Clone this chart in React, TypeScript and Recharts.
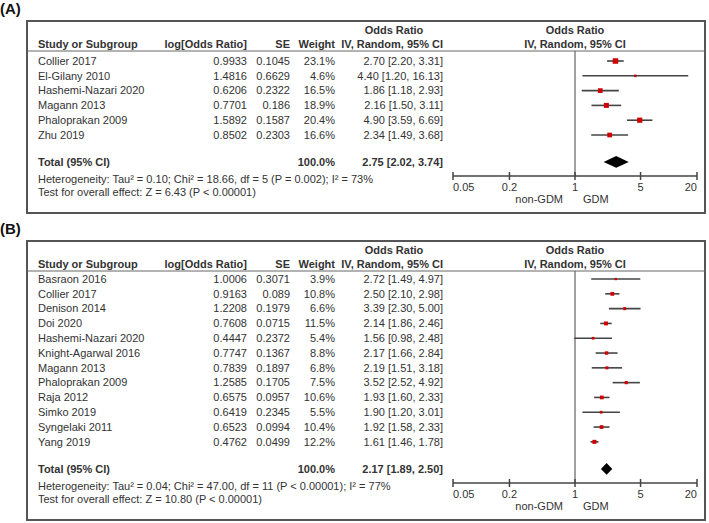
import React from 'react';
import { ComposedChart, Scatter, XAxis, YAxis, ReferenceLine, ReferenceArea, ErrorBar } from 'recharts';

// ---------- Panel A data ----------
const studiesA = ['Collier 2017', 'El-Gilany 2010', 'Hashemi-Nazari 2020', 'Magann 2013', 'Phaloprakan 2009', 'Zhu 2019'];
const logOrA = ['0.9933', '1.4816', '0.6206', '0.7701', '1.5892', '0.8502'];
const seA = ['0.1045', '0.6629', '0.2322', '0.186', '0.1587', '0.2303'];
const weightA = [23.1, 4.6, 16.5, 18.9, 20.4, 16.6];
const orA = [2.7, 4.4, 1.86, 2.16, 4.9, 2.34];
const loA = [2.2, 1.2, 1.18, 1.5, 3.59, 1.49];
const hiA = [3.31, 16.13, 2.93, 3.11, 6.69, 3.68];
const totalA = [2.75, 2.02, 3.74];
const hetA = ['0.10', '18.66', '5', 'P = 0.002', '73%'];
const effectA = ['6.43', 'P < 0.00001'];

// ---------- Panel B data ----------
const studiesB = ['Basraon 2016', 'Collier 2017', 'Denison 2014', 'Doi 2020', 'Hashemi-Nazari 2020', 'Knight-Agarwal 2016', 'Magann 2013', 'Phaloprakan 2009', 'Raja 2012', 'Simko 2019', 'Syngelaki 2011', 'Yang 2019'];
const logOrB = ['1.0006', '0.9163', '1.2208', '0.7608', '0.4447', '0.7747', '0.7839', '1.2585', '0.6575', '0.6419', '0.6523', '0.4762'];
const seB = ['0.3071', '0.089', '0.1979', '0.0715', '0.2372', '0.1367', '0.1897', '0.1705', '0.0957', '0.2345', '0.0994', '0.0499'];
const weightB = [3.9, 10.8, 6.6, 11.5, 5.4, 8.8, 6.8, 7.5, 10.6, 5.5, 10.4, 12.2];
const orB = [2.72, 2.5, 3.39, 2.14, 1.56, 2.17, 2.19, 3.52, 1.93, 1.9, 1.92, 1.61];
const loB = [1.49, 2.1, 2.3, 1.86, 0.98, 1.66, 1.51, 2.52, 1.6, 1.2, 1.58, 1.46];
const hiB = [4.97, 2.98, 5.0, 2.46, 2.48, 2.84, 3.18, 4.92, 2.33, 3.01, 2.33, 1.78];
const totalB = [2.17, 1.89, 2.5];
const hetB = ['0.04', '47.00', '11', 'P < 0.00001', '77%'];
const effectB = ['10.80', 'P < 0.00001'];

// ---------- Axis ----------
const axisTicks = [0.05, 0.2, 1, 5, 20];
const axisLabels = ['0.05', '0.2', '1', '5', '20'];

const FONT = '"Liberation Sans", Arial, sans-serif';
const TXT = '#333';
const W = 709;

const fmt = (v: number) => v.toFixed(2);
const ciText = (o: number, l: number, h: number) => `${fmt(o)} [${fmt(l)}, ${fmt(h)}]`;

const Square = (props: any) => {
  const { cx, cy, payload } = props;
  const s = 1.15 * Math.sqrt(payload.w);
  return <rect x={cx - s / 2} y={cy - s / 2} width={s} height={s} fill="#d00000" />;
};

const Diamond = (props: any) => {
  const { x, y, width, height } = props;
  const cx = x + width / 2;
  const cy = y + height / 2;
  return <polygon points={`${x},${cy} ${cx},${y} ${x + width},${cy} ${cx},${y + height}`} fill="#000" />;
};

const AxisTick = (props: any) => {
  const { x, y, payload, index } = props;
  const anchor = index === 0 ? 'start' : index === axisTicks.length - 1 ? 'end' : 'middle';
  const lbl = axisLabels[axisTicks.indexOf(payload.value)];
  return (
    <g>
      <line x1={x} x2={x} y1={y - 4} y2={y + 4} stroke="#444" strokeWidth={1.5} />
      <text x={x} y={y + 11} dy="0.35em" textAnchor={anchor} fontFamily={FONT} fontSize={11} fill={TXT}>{lbl}</text>
    </g>
  );
};

type PanelProps = {
  names: string[]; logOr: string[]; se: string[]; weight: number[]; or: number[]; lo: number[]; hi: number[];
  total: number[]; top: number; height: number; marginTop: number; marginBottom: number;
  yDomain: [number, number]; totalPos: number;
};

function Panel(p: PanelProps) {
  const rows = p.names.map((n, i) => ({
    y: i, x: p.or[i], err: [p.or[i] - p.lo[i], p.hi[i] - p.or[i]], w: p.weight[i],
  }));
  const ticks = [...p.names.map((_, i) => i), p.totalPos];
  const RowTick = (tp: any) => {
    const v = tp.payload.value;
    const y = tp.y;
    const common = { fontFamily: FONT, fontSize: 11, fill: TXT, dy: '0.35em' } as any;
    if (v === p.totalPos) {
      return (
        <g fontWeight="bold">
          <text x={38} y={y} {...common}>Total (95% CI)</text>
          <text x={335} y={y} textAnchor="end" {...common}>100.0%</text>
          <text x={443} y={y} textAnchor="end" {...common}>{ciText(p.total[0], p.total[1], p.total[2])}</text>
        </g>
      );
    }
    const i = Math.round(v);
    return (
      <g>
        <text x={38} y={y} {...common}>{p.names[i]}</text>
        <text x={247} y={y} textAnchor="end" {...common}>{p.logOr[i]}</text>
        <text x={290} y={y} textAnchor="end" {...common}>{p.se[i]}</text>
        <text x={335} y={y} textAnchor="end" {...common}>{p.weight[i].toFixed(1)}%</text>
        <text x={443} y={y} textAnchor="end" {...common}>{ciText(p.or[i], p.lo[i], p.hi[i])}</text>
      </g>
    );
  };
  return (
    <div style={{ position: 'absolute', left: 0, top: p.top, width: W, height: p.height }}>
      <ComposedChart width={W} height={p.height} margin={{ top: p.marginTop, right: 12, bottom: p.marginBottom, left: 0 }}>
        <XAxis type="number" dataKey="x" scale="log" domain={[0.05, 20]} allowDataOverflow ticks={axisTicks} interval={0}
          tick={AxisTick} tickLine={false} tickSize={0} tickMargin={0} height={30}
          axisLine={{ stroke: '#444', strokeWidth: 1.5 }} />
        <YAxis type="number" dataKey="y" domain={p.yDomain} allowDataOverflow reversed ticks={ticks} interval={0}
          tick={RowTick} axisLine={false} tickLine={false} width={453} />
        <ReferenceLine x={1} stroke="#444" strokeWidth={1} ifOverflow="extendDomain" />
        <Scatter data={rows} shape={Square} isAnimationActive={false}>
          <ErrorBar dataKey="err" direction="x" width={0} stroke="#444" strokeWidth={1.6} isAnimationActive={false} />
        </Scatter>
        <ReferenceArea x1={p.total[1]} x2={p.total[2]} y1={p.totalPos - 0.4} y2={p.totalPos + 0.4} shape={Diamond} ifOverflow="visible" />
      </ComposedChart>
    </div>
  );
}

const Sup = ({ children }: any) => <tspan>{children}</tspan>;

function Frame({ boxTop, boxBottom, label, het, effect, hetY, gdmY }: any) {
  const t = { fontFamily: FONT, fontSize: 11, fill: TXT } as any;
  const b = { ...t, fontWeight: 'bold' };
  return (
    <g>
      <text x={0} y={boxTop - 12.5} dy="0.35em" fontFamily={FONT} fontSize={15} fontWeight="bold" fill="#111">{label}</text>
      <rect x={27} y={boxTop} width={678} height={boxBottom - boxTop} fill="none" stroke="#555" strokeWidth={2} />
      <line x1={27} x2={705} y1={boxTop + 30} y2={boxTop + 30} stroke="#666" strokeWidth={1} />
      <text x={394} y={boxTop + 9} dy="0.35em" textAnchor="middle" {...b}>Odds Ratio</text>
      <text x={575} y={boxTop + 9} dy="0.35em" textAnchor="middle" {...b}>Odds Ratio</text>
      <text x={38} y={boxTop + 23} dy="0.35em" {...b}>Study or Subgroup</text>
      <text x={247} y={boxTop + 23} dy="0.35em" textAnchor="end" {...b}>log[Odds Ratio]</text>
      <text x={290} y={boxTop + 23} dy="0.35em" textAnchor="end" {...b}>SE</text>
      <text x={335} y={boxTop + 23} dy="0.35em" textAnchor="end" {...b}>Weight</text>
      <text x={443} y={boxTop + 23} dy="0.35em" textAnchor="end" {...b}>IV, Random, 95% CI</text>
      <text x={575} y={boxTop + 23} dy="0.35em" textAnchor="middle" {...b}>IV, Random, 95% CI</text>
      <text x={38} y={hetY} dy="0.35em" {...t}>
        {`Heterogeneity: Tau² = ${het[0]}; Chi² = ${het[1]}, df = ${het[2]} (${het[3]}); I² = ${het[4]}`}
      </text>
      <text x={38} y={hetY + 13.5} dy="0.35em" {...t}>{`Test for overall effect: Z = ${effect[0]} (${effect[1]})`}</text>
      <text x={563} y={gdmY} dy="0.35em" textAnchor="end" {...t}>non-GDM</text>
      <text x={583} y={gdmY} dy="0.35em" {...t}>GDM</text>
    </g>
  );
}

export default function App() {
  return (
    <div style={{ position: 'absolute', left: 0, top: 0, width: W, height: 523, background: '#fff', overflow: 'hidden' }}>
      <Panel names={studiesA} logOr={logOrA} se={seA} weight={weightA} or={orA} lo={loA} hi={hiA} total={totalA}
        top={0} height={230} marginTop={51} marginBottom={24} yDomain={[-0.676, 7.77]} totalPos={6.82} />
      <Panel names={studiesB} logOr={logOrB} se={seB} weight={weightB} or={orB} lo={loB} hi={hiB} total={totalB}
        top={230} height={293} marginTop={41} marginBottom={10} yDomain={[-0.543, 13.78]} totalPos={12.83} />
      <svg width={W} height={523} style={{ position: 'absolute', left: 0, top: 0, pointerEvents: 'none' }}>
        <Frame boxTop={21} boxBottom={213} label="(A)" het={hetA} effect={effectA} hetY={179} gdmY={199} />
        <Frame boxTop={241} boxBottom={520} label="(B)" het={hetB} effect={effectB} hetY={486} gdmY={506} />
      </svg>
    </div>
  );
}
